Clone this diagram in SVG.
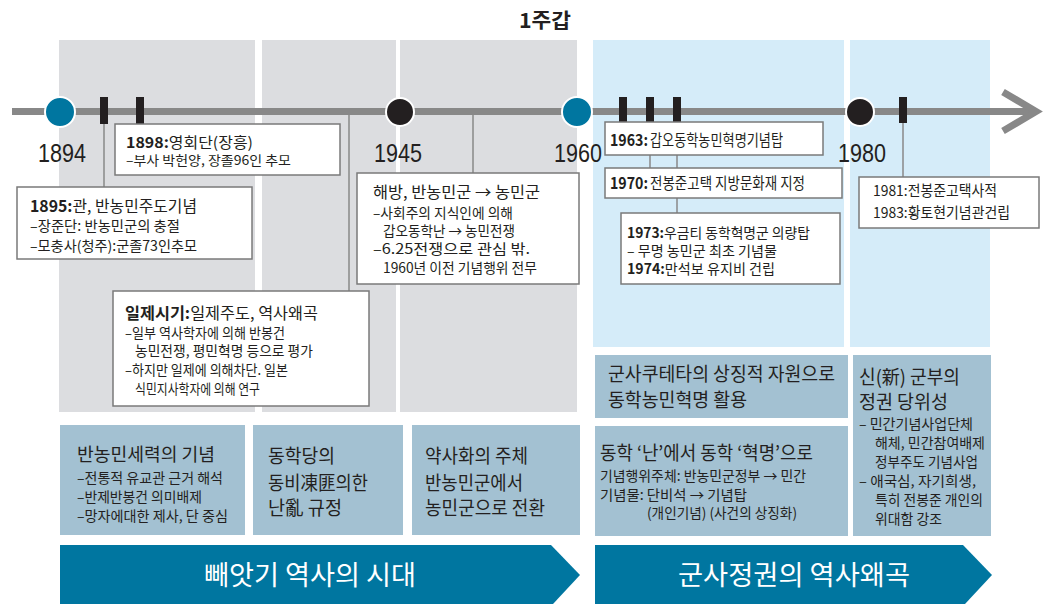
<svg xmlns="http://www.w3.org/2000/svg" width="1045" height="604" viewBox="0 0 1045 604">
<style>
text{font-family:"Noto Sans CJK KR","Noto Sans",sans-serif;fill:#231f20}
.yr{font-family:"Liberation Sans",Arial,sans-serif;font-size:26px}
.b{font-weight:bold}
.t17{font-size:17px}.t16{font-size:16px}.t15{font-size:15px}.t14{font-size:14px}
.t18{font-size:18px}.t19{font-size:19px}.t20{font-size:20px}
.box{fill:#fff;stroke:#7a7a7a;stroke-width:1.5}
.gp{fill:#dcdde0}.bp{fill:#d5ecf9}.nb{fill:#a3c1d2}
.con{stroke:#888;stroke-width:1.5;fill:none}
.tick{fill:#231f20}
.w{fill:#fff;font-size:27px}
</style>
<rect width="1045" height="604" fill="#fff"/>
<g id="panels">
<rect class="gp" x="59" y="40" width="196" height="372"/>
<rect class="gp" x="262" y="40" width="134" height="372"/>
<rect class="gp" x="400" y="40" width="177" height="372"/>
<rect class="bp" x="593" y="40" width="251" height="307"/>
<rect class="bp" x="850" y="40" width="140" height="307"/>
</g>
<text id="title" class="b t20" x="519" y="28" textLength="52" lengthAdjust="spacingAndGlyphs">1주갑</text>
<g id="timeline">
<line x1="12" y1="111.5" x2="1030" y2="111.5" stroke="#888" stroke-width="7"/>
<polyline points="1003,92 1036,111.5 1003,131" fill="none" stroke="#888" stroke-width="7" stroke-linejoin="miter"/>
</g>
<g id="connectors">
<line class="con" x1="104" y1="112" x2="104" y2="187"/>
<line class="con" x1="349" y1="112" x2="349" y2="291"/>
<line class="con" x1="473" y1="112" x2="473" y2="173"/>
<line class="con" x1="650" y1="155" x2="650" y2="168"/>
<line class="con" x1="677" y1="155" x2="677" y2="168"/>
<line class="con" x1="677" y1="198" x2="677" y2="213"/>
<line class="con" x1="903" y1="112" x2="903" y2="177"/>
</g>
<g id="ticks">
<rect class="tick" x="100" y="97" width="8" height="27"/>
<rect class="tick" x="136" y="97" width="8" height="27"/>
<rect class="tick" x="619" y="97" width="8" height="26"/>
<rect class="tick" x="646" y="97" width="8" height="26"/>
<rect class="tick" x="673" y="97" width="8" height="26"/>
<rect class="tick" x="899" y="97" width="8" height="26"/>
</g>
<g id="y1894"><circle cx="60" cy="112" r="15" fill="#0076a0" stroke="#fff" stroke-width="2"/><text class="yr" x="38" y="162" textLength="48" lengthAdjust="spacingAndGlyphs">1894</text></g>
<g id="y1945"><circle cx="400" cy="112" r="14" fill="#231f20" stroke="#fff" stroke-width="2"/><text class="yr" x="374" y="162" textLength="48" lengthAdjust="spacingAndGlyphs">1945</text></g>
<g id="y1960"><circle cx="577" cy="112" r="15" fill="#0076a0" stroke="#fff" stroke-width="2"/><text class="yr" x="554" y="162" textLength="48" lengthAdjust="spacingAndGlyphs">1960</text></g>
<g id="y1980"><circle cx="860" cy="112" r="14" fill="#231f20" stroke="#fff" stroke-width="2"/><text class="yr" x="838" y="162" textLength="48" lengthAdjust="spacingAndGlyphs">1980</text></g>

<g id="n1898">
<rect class="box" x="115" y="124" width="225" height="51"/>
<text class="t15" x="126" y="148" textLength="127" lengthAdjust="spacingAndGlyphs"><tspan class="b">1898:</tspan>영회단(장흥)</text>
<text style="font-size:13px" x="126" y="165" textLength="165" lengthAdjust="spacingAndGlyphs">–부사 박헌양, 장졸96인 추모</text>
</g>
<g id="n1895">
<rect class="box" x="17" y="187" width="235" height="72"/>
<text class="t16" x="30" y="211.5" textLength="167" lengthAdjust="spacingAndGlyphs"><tspan class="b">1895:</tspan>관, 반농민주도기념</text>
<text class="t14" x="30" y="230.5" textLength="150" lengthAdjust="spacingAndGlyphs">–장준단: 반농민군의 충절</text>
<text class="t14" x="30" y="250.5" textLength="167" lengthAdjust="spacingAndGlyphs">–모충사(청주):군졸73인추모</text>
</g>
<g id="nIlje">
<rect class="box" x="113" y="291" width="256" height="115"/>
<text class="t16" x="125" y="318.5" textLength="193" lengthAdjust="spacingAndGlyphs"><tspan class="b">일제시기:</tspan>일제주도, 역사왜곡</text>
<text class="t14" x="125" y="337.5" textLength="160" lengthAdjust="spacingAndGlyphs">–일부 역사학자에 의해 반봉건</text>
<text class="t14" x="135" y="356" textLength="178" lengthAdjust="spacingAndGlyphs">농민전쟁, 평민혁명 등으로 평가</text>
<text class="t14" x="125" y="374.5" textLength="163" lengthAdjust="spacingAndGlyphs">–하지만 일제에 의해차단. 일본</text>
<text class="t14" x="135" y="393.5" textLength="125" lengthAdjust="spacingAndGlyphs">식민지사학자에 의해 연구</text>
</g>
<g id="nHaebang">
<rect class="box" x="357" y="173" width="222" height="111"/>
<text class="t16" x="373" y="198" textLength="167" lengthAdjust="spacingAndGlyphs">해방, 반농민군 → 농민군</text>
<text class="t14" x="373" y="217.5" textLength="140" lengthAdjust="spacingAndGlyphs">–사회주의 지식인에 의해</text>
<text class="t14" x="383" y="235.5" textLength="132" lengthAdjust="spacingAndGlyphs">갑오동학난 → 농민전쟁</text>
<text class="t14" x="373" y="253.5" textLength="157" lengthAdjust="spacingAndGlyphs">–6.25전쟁으로 관심 밖.</text>
<text class="t14" x="383" y="272.5" textLength="154" lengthAdjust="spacingAndGlyphs">1960년 이전 기념행위 전무</text>
</g>
<g id="n1963">
<rect class="box" x="605" y="122" width="218" height="33"/>
<text class="t16 b" x="610" y="145.5" textLength="38" lengthAdjust="spacingAndGlyphs">1963:</text>
<text class="t16" x="650" y="145.5" textLength="133" lengthAdjust="spacingAndGlyphs">갑오동학농민혁명기념탑</text>
</g>
<g id="n1970">
<rect class="box" x="605" y="168" width="237" height="30"/>
<text class="t16 b" x="610" y="189" textLength="38" lengthAdjust="spacingAndGlyphs">1970:</text>
<text class="t16" x="650" y="189" textLength="155" lengthAdjust="spacingAndGlyphs">전봉준고택 지방문화재 지정</text>
</g>
<g id="n1973">
<rect class="box" x="621" y="213" width="219" height="71"/>
<text class="t14" x="627" y="237.5" textLength="183" lengthAdjust="spacingAndGlyphs"><tspan class="b">1973:</tspan>우금티 동학혁명군 의량탑</text>
<text class="t14" x="627" y="255.5" textLength="150" lengthAdjust="spacingAndGlyphs">– 무명 농민군 최초 기념물</text>
<text class="t14" x="627" y="273.5" textLength="148" lengthAdjust="spacingAndGlyphs"><tspan class="b">1974:</tspan>만석보 유지비 건립</text>
</g>
<g id="n1981">
<rect class="box" x="859" y="177" width="180" height="51"/>
<text class="t15" x="873" y="195.5" textLength="124" lengthAdjust="spacingAndGlyphs">1981:전봉준고택사적</text>
<text class="t15" x="873" y="217.5" textLength="137" lengthAdjust="spacingAndGlyphs">1983:황토현기념관건립</text>
</g>

<g id="bA">
<rect class="nb" x="60" y="425" width="185" height="110"/>
<text class="t18" x="77" y="461" textLength="138" lengthAdjust="spacingAndGlyphs">반농민세력의 기념</text>
<text class="t14" x="77" y="482.5" textLength="146" lengthAdjust="spacingAndGlyphs">–전통적 유교관 근거 해석</text>
<text class="t14" x="77" y="501.5" textLength="125" lengthAdjust="spacingAndGlyphs">–반제반봉건 의미배제</text>
<text class="t14" x="77" y="520.5" textLength="151" lengthAdjust="spacingAndGlyphs">–망자에대한 제사, 단 중심</text>
</g>
<g id="bB">
<rect class="nb" x="253" y="425" width="150" height="110"/>
<text class="t19" x="268" y="462.5" textLength="67" lengthAdjust="spacingAndGlyphs">동학당의</text>
<text class="t19" x="268" y="489.5" textLength="100" lengthAdjust="spacingAndGlyphs">동비凍匪의한</text>
<text class="t19" x="268" y="514.5" textLength="74" lengthAdjust="spacingAndGlyphs">난亂 규정</text>
</g>
<g id="bC">
<rect class="nb" x="412" y="425" width="168" height="110"/>
<text class="t19" x="425" y="462.5" textLength="103" lengthAdjust="spacingAndGlyphs">약사화의 주체</text>
<text class="t19" x="425" y="489.5" textLength="98" lengthAdjust="spacingAndGlyphs">반농민군에서</text>
<text class="t19" x="425" y="514.5" textLength="120" lengthAdjust="spacingAndGlyphs">농민군으로 전환</text>
</g>
<g id="bD">
<rect class="nb" x="595" y="355" width="253" height="63"/>
<text class="t19" x="608" y="381" textLength="227" lengthAdjust="spacingAndGlyphs">군사쿠테타의 상징적 자원으로</text>
<text class="t19" x="608" y="407" textLength="139" lengthAdjust="spacingAndGlyphs">동학농민혁명 활용</text>
</g>
<g id="bE">
<rect class="nb" x="595" y="426" width="253" height="110"/>
<text class="t19" x="600" y="460" textLength="213" lengthAdjust="spacingAndGlyphs">동학 ‘난’에서 동학 ‘혁명’으로</text>
<text class="t14" x="600" y="480.5" textLength="206" lengthAdjust="spacingAndGlyphs">기념행위주체: 반농민군정부 → 민간</text>
<text class="t14" x="600" y="499.5" textLength="147" lengthAdjust="spacingAndGlyphs">기념물: 단비석 → 기념탑</text>
<text class="t14" x="647" y="517.5" textLength="150" lengthAdjust="spacingAndGlyphs">(개인기념) (사건의 상징화)</text>
</g>
<g id="bF">
<rect class="nb" x="853" y="355" width="138" height="181"/>
<text class="t19" x="859" y="384" textLength="101" lengthAdjust="spacingAndGlyphs">신(新) 군부의</text>
<text class="t19" x="859" y="409" textLength="89" lengthAdjust="spacingAndGlyphs">정권 당위성</text>
<text class="t14" x="859" y="428.5" textLength="114" lengthAdjust="spacingAndGlyphs">– 민간기념사업단체</text>
<text class="t14" x="875" y="448" textLength="110" lengthAdjust="spacingAndGlyphs">해체, 민간참여배제</text>
<text class="t14" x="875" y="467" textLength="103" lengthAdjust="spacingAndGlyphs">정부주도 기념사업</text>
<text class="t14" x="859" y="486" textLength="117" lengthAdjust="spacingAndGlyphs">– 애국심, 자기희생,</text>
<text class="t14" x="875" y="505" textLength="108" lengthAdjust="spacingAndGlyphs">특히 전봉준 개인의</text>
<text class="t14" x="875" y="524" textLength="67" lengthAdjust="spacingAndGlyphs">위대함 강조</text>
</g>
<g id="era1">
<polygon points="60,545 551,545 580,575 553,604 60,604" fill="#0076a0"/>
<text class="w" x="204" y="585" textLength="212" lengthAdjust="spacingAndGlyphs">빼앗기 역사의 시대</text>
</g>
<g id="era2">
<polygon points="595,545 963,545 992,575 965,604 595,604" fill="#0076a0"/>
<text class="w" x="678" y="585" textLength="232" lengthAdjust="spacingAndGlyphs">군사정권의 역사왜곡</text>
</g>
</svg>
